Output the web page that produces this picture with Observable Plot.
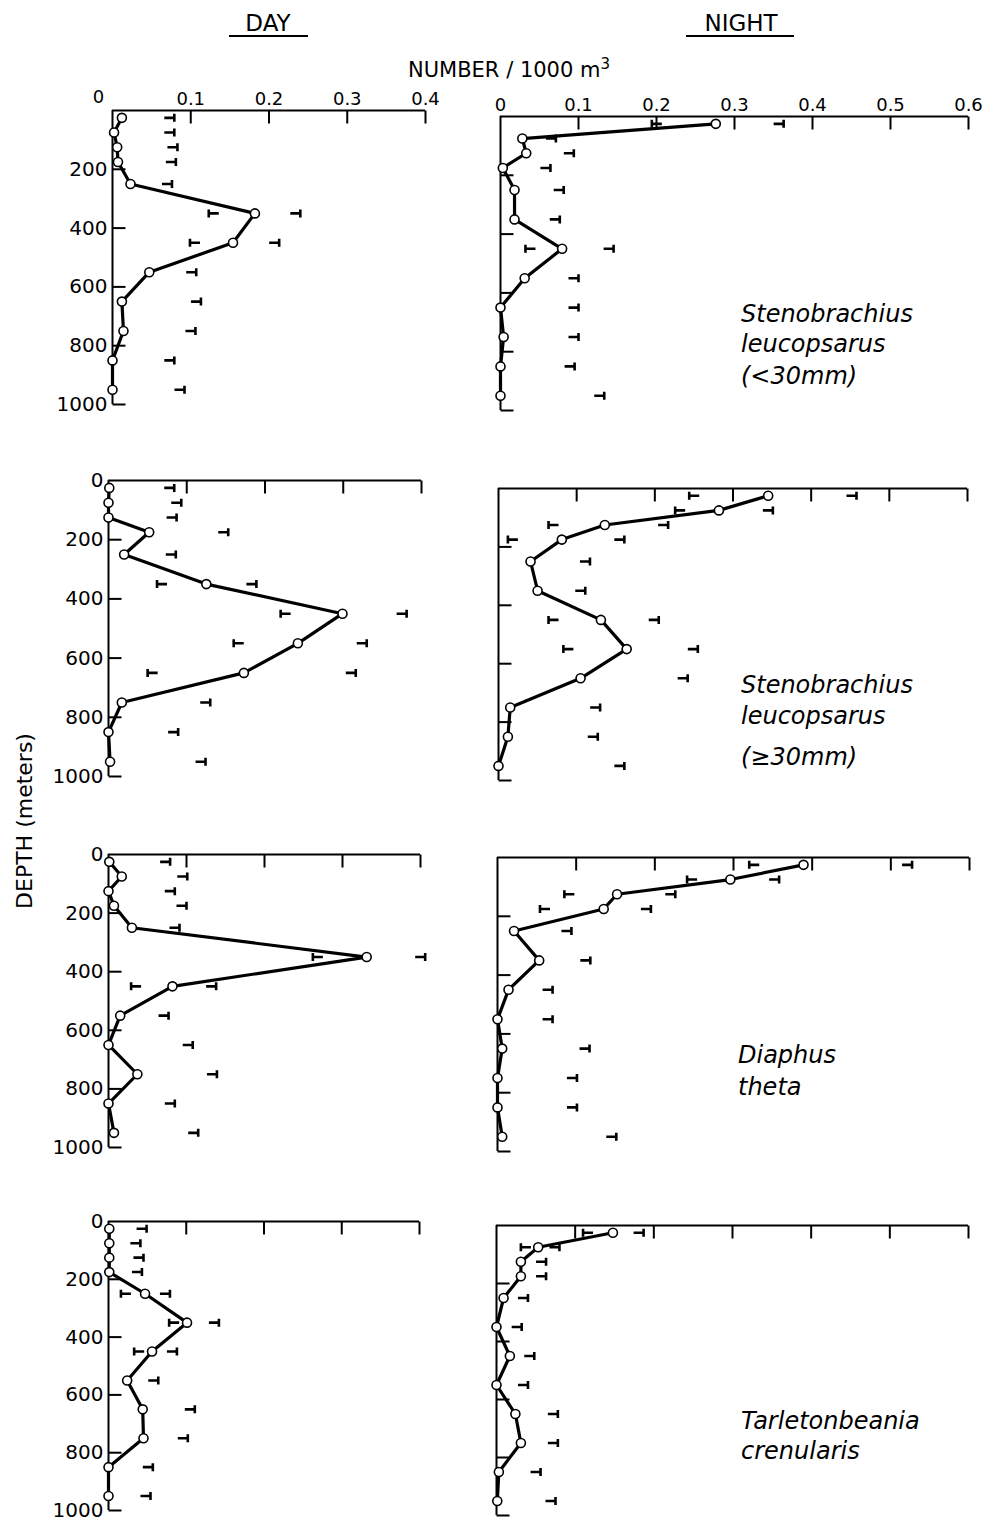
<!DOCTYPE html>
<html><head><meta charset="utf-8">
<script src="https://cdn.jsdelivr.net/npm/d3@7"></script>
<script src="https://cdn.jsdelivr.net/npm/@observablehq/plot@0.6"></script>
<style>
body{margin:0;background:#fff;}
#root{position:relative;width:986px;height:1525px;background:#fff;font-family:"DejaVu Sans",sans-serif;color:#000;overflow:hidden}
.t{position:absolute;white-space:nowrap;line-height:1;color:#000}
.sp{font-style:italic;font-size:24px}
.ul{position:absolute;height:0;border-top:2.5px solid #000}
</style></head><body><div id="root"></div>
<script>
// ---- data ----
const depths = [25, 75, 125, 175, 250, 350, 450, 550, 650, 750, 850, 950];
const depthTicks = [200, 400, 600, 800, 1000];
const depthTickLabels = ["200", "400", "600", "800", "1000"];
const dayTicks = [0.1, 0.2, 0.3, 0.4];
const dayTickLabels = ["0.1", "0.2", "0.3", "0.4"];
const nightTicks = [0.1, 0.2, 0.3, 0.4, 0.5, 0.6];
const nightTickLabels = ["0.1", "0.2", "0.3", "0.4", "0.5", "0.6"];

// Stenobrachius leucopsarus (<30 mm)
const day1Mean  = [0.012, 0.002, 0.006, 0.007, 0.023, 0.182, 0.154, 0.047, 0.012, 0.014, 0, 0];
const day1Upper = [0.079, 0.079, 0.083, 0.081, 0.076, 0.240, 0.213, 0.107, 0.113, 0.106, 0.079, 0.092];
const day1Lower = [null, null, null, null, null, 0.123, 0.099, null, null, null, null, null];
const night1Mean  = [0.276, 0.028, 0.033, 0.003, 0.018, 0.018, 0.079, 0.031, 0, 0.004, 0, 0];
const night1Upper = [0.363, 0.071, 0.094, 0.064, 0.081, 0.076, 0.145, 0.100, 0.100, 0.100, 0.095, 0.133];
const night1Lower = [0.194, null, null, null, null, null, 0.032, null, null, null, null, null];

// Stenobrachius leucopsarus (>=30 mm)
const day2Mean  = [0.001, 0, 0, 0.052, 0.020, 0.125, 0.299, 0.242, 0.173, 0.017, 0, 0.002];
const day2Upper = [0.084, 0.093, 0.087, 0.153, 0.086, 0.189, 0.381, 0.330, 0.316, 0.130, 0.089, 0.124];
const day2Lower = [null, null, null, null, null, 0.062, 0.220, 0.160, 0.050, null, null, null];
const night2Mean  = [0.345, 0.282, 0.136, 0.081, 0.041, 0.050, 0.131, 0.164, 0.105, 0.015, 0.012, 0];
const night2Upper = [0.458, 0.351, 0.217, 0.161, 0.117, 0.111, 0.205, 0.255, 0.242, 0.130, 0.127, 0.161];
const night2Lower = [0.244, 0.226, 0.064, 0.012, null, null, 0.064, 0.083, null, null, null, null];

// Diaphus theta
const day3Mean  = [0.001, 0.017, 0, 0.007, 0.030, 0.331, 0.082, 0.015, 0, 0.037, 0, 0.007];
const day3Upper = [0.079, 0.101, 0.085, 0.100, 0.091, 0.406, 0.138, 0.077, 0.108, 0.139, 0.085, 0.115];
const day3Lower = [null, null, null, null, null, 0.262, 0.029, null, null, null, null, null];
const night3Mean  = [0.389, 0.296, 0.152, 0.135, 0.021, 0.053, 0.014, 0, 0.006, 0, 0, 0.006];
const night3Upper = [0.527, 0.358, 0.226, 0.195, 0.094, 0.118, 0.070, 0.070, 0.117, 0.101, 0.101, 0.151];
const night3Lower = [0.320, 0.241, 0.085, 0.054, null, null, null, null, null, null, null, null];

// Tarletonbeania crenularis
const day4Mean  = [0.001, 0.001, 0.001, 0.001, 0.047, 0.101, 0.056, 0.024, 0.044, 0.045, 0, 0];
const day4Upper = [0.049, 0.041, 0.045, 0.043, 0.079, 0.142, 0.088, 0.064, 0.111, 0.102, 0.057, 0.054];
const day4Lower = [null, null, null, null, 0.016, 0.078, 0.033, null, null, null, null, null];
const night4Mean  = [0.148, 0.053, 0.031, 0.031, 0.009, 0, 0.017, 0, 0.024, 0.031, 0.003, 0.001];
const night4Upper = [0.187, 0.080, 0.063, 0.063, 0.040, 0.032, 0.048, 0.040, 0.078, 0.078, 0.056, 0.075];
const night4Lower = [0.110, 0.031, null, null, null, null, null, null, null, null, null, null];

// ---- layout (pixel placement of each panel: x of 0, x of max, y of 0 m, y of 1000 m) ----
const panels = [
  {mean: day1Mean, upper: day1Upper, lower: day1Lower, day: true, first: true,  x0: 112, x1: 425, y0: 110, y1: 404},
  {mean: night1Mean, upper: night1Upper, lower: night1Lower, day: false, first: true, x0: 500, x1: 968, y0: 116, y1: 410},
  {mean: day2Mean, upper: day2Upper, lower: day2Lower, day: true, first: false, x0: 108, x1: 421, y0: 480, y1: 776},
  {mean: night2Mean, upper: night2Upper, lower: night2Lower, day: false, first: false, x0: 498, x1: 967, y0: 488, y1: 780},
  {mean: day3Mean, upper: day3Upper, lower: day3Lower, day: true, first: false, x0: 108, x1: 420, y0: 854, y1: 1147},
  {mean: night3Mean, upper: night3Upper, lower: night3Lower, day: false, first: false, x0: 497, x1: 969, y0: 857, y1: 1151},
  {mean: day4Mean, upper: day4Upper, lower: day4Lower, day: true, first: false, x0: 108, x1: 419, y0: 1221, y1: 1510},
  {mean: night4Mean, upper: night4Upper, lower: night4Lower, day: false, first: false, x0: 496, x1: 968, y0: 1225, y1: 1515}
];

// ---- custom symbols ----
const upperCap = {draw(ctx, size) { const r = Math.sqrt(size / Math.PI);
  ctx.moveTo(-2 * r, 0); ctx.lineTo(0, 0); ctx.moveTo(0, -0.8 * r); ctx.lineTo(0, 0.8 * r); }};
const lowerCap = {draw(ctx, size) { const r = Math.sqrt(size / Math.PI);
  ctx.moveTo(2 * r, 0); ctx.lineTo(0, 0); ctx.moveTo(0, -0.8 * r); ctx.lineTo(0, 0.8 * r); }};
const downTick = {draw(ctx, size) { const r = Math.sqrt(size / Math.PI);
  ctx.moveTo(0, 0); ctx.lineTo(0, 2.6 * r); }};
const rightTick = {draw(ctx, size) { const r = Math.sqrt(size / Math.PI);
  ctx.moveTo(0, 0); ctx.lineTo(2.6 * r, 0); }};

const root = document.getElementById("root");
const ML = 70, MR = 22, MT = 40, MB = 20;

for (const p of panels) {
  const xmax = p.day ? 0.4 : 0.6;
  const ticks = p.day ? dayTicks : nightTicks;
  const tickLabels = p.day ? dayTickLabels : nightTickLabels;
  const rows = depths.map((d, i) => ({d, v: p.mean[i]}));
  const ups = depths.map((d, i) => ({d, v: p.upper[i]})).filter(r => r.v != null);
  const lows = depths.map((d, i) => ({d, v: p.lower[i]})).filter(r => r.v != null);
  const marks = [
    Plot.ruleY([0], {x1: 0, x2: xmax, stroke: "black", strokeWidth: 2}),
    Plot.ruleX([0], {y1: 0, y2: 1000, stroke: "black", strokeWidth: 2}),
    Plot.dot(ticks, {x: d => d, y: 0, r: 5, symbol: downTick, stroke: "black", strokeWidth: 2, fill: "none"}),
    Plot.dot(depthTicks, {x: 0, y: d => d, r: 5, symbol: rightTick, stroke: "black", strokeWidth: 2, fill: "none"}),
    Plot.dot(ups, {x: "v", y: "d", r: 5, symbol: upperCap, stroke: "black", strokeWidth: 2.6, fill: "none"}),
    Plot.dot(lows, {x: "v", y: "d", r: 5, symbol: lowerCap, stroke: "black", strokeWidth: 2.6, fill: "none"}),
    Plot.line(rows, {x: "v", y: "d", stroke: "black", strokeWidth: 3.2, strokeLinejoin: "round"}),
    Plot.dot(rows, {x: "v", y: "d", r: 4.5, fill: "white", stroke: "black", strokeWidth: 1.6})
  ];
  if (p.first) {
    marks.push(Plot.text(ticks.map((v, i) => ({v, label: tickLabels[i]})),
      {x: "v", y: 0, text: "label", dy: -11, fontSize: 18, lineAnchor: "middle"}));
    marks.push(Plot.text(["0"], {x: 0, y: 0, text: d => d, dx: p.day ? -14 : 0, dy: p.day ? -13 : -11, fontSize: 18, lineAnchor: "middle"}));
  }
  if (p.day) {
    const lab = depthTicks.map((d, i) => ({d, label: depthTickLabels[i]}));
    if (!p.first) lab.unshift({d: 0, label: "0"});
    marks.push(Plot.text(lab, {x: 0, y: "d", text: "label", textAnchor: "end", dx: -5, fontSize: 20, lineAnchor: "middle"}));
  }
  const w = (p.x1 - p.x0) + ML + MR;
  const h = (p.y1 - p.y0) + MT + MB;
  const svg = Plot.plot({
    width: w, height: h,
    marginLeft: ML, marginRight: MR, marginTop: MT, marginBottom: MB,
    x: {domain: [0, xmax], axis: null},
    y: {domain: [0, 1000], reverse: true, axis: null},
    style: {fontFamily: "DejaVu Sans", background: "none", overflow: "visible", color: "black"},
    marks
  });
  svg.style.position = "absolute";
  svg.style.left = (p.x0 - ML) + "px";
  svg.style.top = (p.y0 - MT) + "px";
  svg.style.maxWidth = "none";
  root.appendChild(svg);
}

// ---- text ----
function addText(html, opts) {
  const el = document.createElement("div");
  el.className = "t" + (opts.cls ? " " + opts.cls : "");
  el.innerHTML = html;
  const fs = opts.size;
  el.style.fontSize = fs + "px";
  el.style.top = (opts.baseline - 0.846 * fs) + "px";
  el.style.left = opts.x + "px";
  if (opts.center) el.style.transform = "translateX(-50%)";
  root.appendChild(el);
  return el;
}
function addRule(x1, x2, y) {
  const el = document.createElement("div");
  el.className = "ul";
  el.style.left = x1 + "px"; el.style.width = (x2 - x1) + "px"; el.style.top = y + "px";
  root.appendChild(el);
}
const columnTitles = ["DAY", "NIGHT"];
addText(columnTitles[0], {x: 268, baseline: 31, size: 23, center: true});
addRule(229, 308, 35);
addText(columnTitles[1], {x: 741, baseline: 31, size: 23, center: true});
addRule(686, 794, 35);
addText('NUMBER / 1000 m<span style="font-size:15px;position:relative;top:-8px">3</span>', {x: 408, baseline: 78, size: 21});

const yTitle = document.createElement("div");
yTitle.className = "t";
yTitle.textContent = "DEPTH (meters)";
yTitle.style.fontSize = "22px";
yTitle.style.left = "25px"; yTitle.style.top = "821px";
yTitle.style.transform = "translate(-50%,-50%) rotate(-90deg)";
root.appendChild(yTitle);

const speciesLabels = [
  {lines: ["Stenobrachius", "leucopsarus", "(&lt;30mm)"], x: 741, baselines: [322, 352, 384]},
  {lines: ["Stenobrachius", "leucopsarus", "(&ge;30mm)"], x: 741, baselines: [693, 724, 765]},
  {lines: ["Diaphus", "theta"], x: 738, baselines: [1063, 1095]},
  {lines: ["Tarletonbeania", "crenularis"], x: 741, baselines: [1429, 1459]}
];
for (const s of speciesLabels) {
  s.lines.forEach((l, i) => addText(l, {x: s.x, baseline: s.baselines[i], size: 24, cls: "sp"}));
}
</script></body></html>
